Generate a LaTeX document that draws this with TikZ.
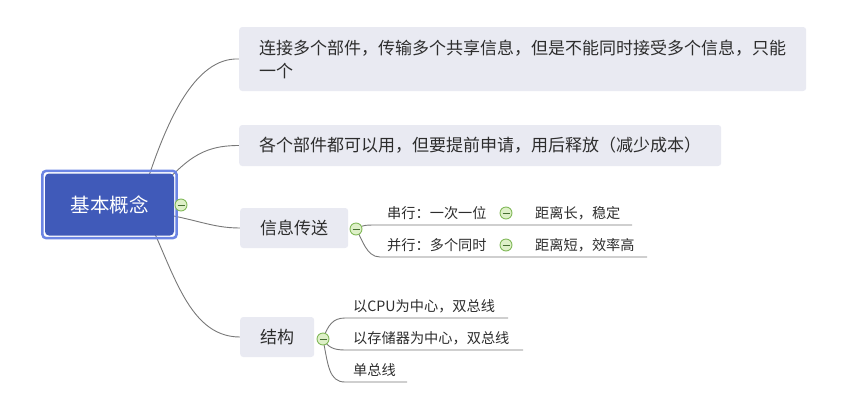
\documentclass[tikz,border=0pt]{standalone}
\usepackage{fontspec}
\setmainfont{Noto Sans CJK SC}
\usetikzlibrary{backgrounds,fit}
\definecolor{boxfill}{RGB}{233,234,242}
\definecolor{rootfill}{RGB}{64,90,185}
\definecolor{rootedge}{RGB}{108,133,228}
\definecolor{linegray}{RGB}{120,120,120}
\definecolor{txt}{RGB}{45,45,45}
\definecolor{btnfill}{RGB}{222,240,200}
\definecolor{btnedge}{RGB}{130,185,90}
\definecolor{btnminus}{RGB}{70,110,50}
\tikzset{
  topic/.style={fill=boxfill, rounded corners=3pt, inner xsep=20pt, inner ysep=0pt,
    minimum height=40pt, anchor=west, text=txt, font=\fontsize{17pt}{23pt}\selectfont},
  leaf/.style={anchor=west, inner sep=0pt, text=txt, font=\fontsize{14.2pt}{17pt}\selectfont},
  conn/.style={draw=linegray, line width=0.9pt},
  btn/.style={circle, draw=btnedge, fill=btnfill, line width=0.9pt, minimum size=12pt,
    inner sep=0pt, path picture={\draw[btnminus, line width=1pt]
      ([xshift=-3.5pt]path picture bounding box.center) -- ([xshift=3.5pt]path picture bounding box.center);}},
}
\begin{document}
\begin{tikzpicture}[x=1pt,y=-1pt]
\useasboundingbox (0,0) rectangle (856,405);
% root
\node[fill=rootfill, rounded corners=4pt, minimum width=129pt, minimum height=62pt,
  inner sep=0pt, text=white, font=\fontsize{19.5pt}{22pt}\selectfont] (root) at (109.5,204.5) {基本概念};
\node[draw=rootedge, line width=2.5pt, rounded corners=4pt, fit=(root), inner sep=2.5pt] (rootframe) {};
% main topics
\node[topic, minimum height=64pt, align=left] (b1) at (239,59)
  {连接多个部件，传输多个共享信息，但是不能同时接受多个信息，只能\\一个};
\node[topic, minimum height=41pt] (b2) at (239,145.5) {各个部件都可以用，但要提前申请，用后释放（减少成本）};
\node[topic] (b3) at (240,228) {信息传送};
\node[topic] (b4) at (240,337) {结构};
% leaves
\node[leaf] (l31) at (387,213) {串行：一次一位};
\node[leaf] (l311) at (535,213) {距离长，稳定};
\node[leaf] (l32) at (387,245) {并行：多个同时};
\node[leaf] (l321) at (535,245) {距离短，效率高};
\node[leaf] (l41) at (353,306) {以CPU为中心，双总线};
\node[leaf] (l42) at (353,338) {以存储器为中心，双总线};
\node[leaf] (l43) at (353,370) {单总线};
% underline ends
\coordinate (u31) at (632,225);
\coordinate (u32) at (647,257);
\coordinate (u41) at (508,318);
\coordinate (u42) at (523,350);
\coordinate (u43) at (407,382);
% buttons
\node[btn] (c0) at (181,205) {};
\node[btn] (c3) at (356,229) {};
\node[btn] (c4) at (323,339) {};
\node[btn] (c31) at (506,213) {};
\node[btn] (c32) at (506,245) {};
% connectors
\begin{scope}[on background layer]
\draw[conn] ([shift={(30.5,0)}]root.center) .. controls (165,120) and (195,57) .. (b1.west);
\draw[conn] ([shift={(40,-4.5)}]root.center) .. controls (185,160) and (200,145.5) .. (b2.west);
\draw[conn] ([shift={(40,7.5)}]root.center) .. controls (195,218) and (210,228) .. (b3.west);
\draw[conn] ([shift={(31.5,0.5)}]root.center) .. controls (172,262) and (185,337) .. (b4.west);
\draw[conn] (c3.center) .. controls (362,225) and (366,225) .. (377,225) -- (u31);
\draw[conn] (c3.center) .. controls (362,238) and (366,257) .. (380,257) -- (u32);
\draw[conn] (c4.center) .. controls (328,325) and (333,318) .. (345,318) -- (u41);
\draw[conn] (c4.center) .. controls (328,347) and (333,350) .. (345,350) -- (u42);
\draw[conn] (c4.center) .. controls (328,365) and (329,382) .. (345,382) -- (u43);
\end{scope}
\end{tikzpicture}
\end{document}
